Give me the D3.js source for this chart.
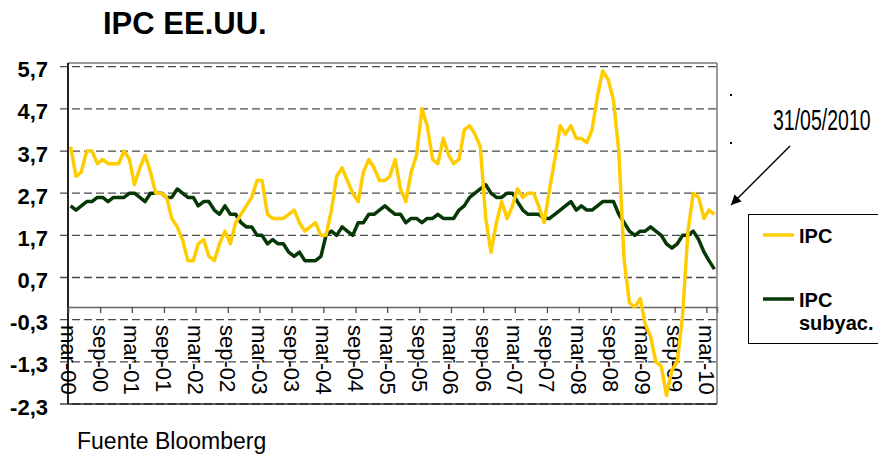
<!DOCTYPE html>
<html>
<head>
<meta charset="utf-8">
<script src="https://cdnjs.cloudflare.com/ajax/libs/d3/7.8.5/d3.min.js"></script>
<style>
  html, body { margin: 0; padding: 0; background: #fff; }
  svg { display: block; font-family: "Liberation Sans", Arial, sans-serif; }
</style>
</head>
<body>
<div id="chart"></div>
<script>
// IPC EE.UU., variacion interanual (%), mar-00 .. abr-10 (datos a 31/05/2010)
const ipc = [
  3.8, 3.1, 3.2, 3.7, 3.7, 3.4, 3.5, 3.4, 3.4, 3.4,                // 2000 (mar-dic)
  3.7, 3.5, 2.9, 3.3, 3.6, 3.2, 2.7, 2.7, 2.6, 2.1, 1.9, 1.6,      // 2001
  1.1, 1.1, 1.5, 1.6, 1.2, 1.1, 1.5, 1.8, 1.5, 2.0, 2.2, 2.4,      // 2002
  2.6, 3.0, 3.0, 2.2, 2.1, 2.1, 2.1, 2.2, 2.3, 2.0, 1.8, 1.9,      // 2003
  2.0, 1.7, 1.7, 2.3, 3.1, 3.3, 3.0, 2.7, 2.5, 3.2, 3.5, 3.3,      // 2004
  3.0, 3.0, 3.1, 3.5, 2.8, 2.5, 3.2, 3.6, 4.7, 4.3, 3.5, 3.4,      // 2005
  4.0, 3.6, 3.4, 3.5, 4.2, 4.3, 4.1, 3.8, 2.1, 1.3, 2.0, 2.5,      // 2006
  2.1, 2.4, 2.8, 2.6, 2.7, 2.7, 2.4, 2.0, 2.8, 3.5, 4.3, 4.1,      // 2007
  4.3, 4.0, 4.0, 3.9, 4.2, 5.0, 5.6, 5.4, 4.9, 3.7, 1.1, 0.1,      // 2008
  0.0, 0.2, -0.4, -0.7, -1.3, -1.4, -2.1, -1.5, -1.3, -0.2, 1.8, 2.7, // 2009
  2.6, 2.1, 2.3, 2.2                                               // 2010 (ene-abr)
];
const ipcSubyac = [
  2.4, 2.3, 2.4, 2.5, 2.5, 2.6, 2.6, 2.5, 2.6, 2.6,
  2.6, 2.7, 2.7, 2.6, 2.5, 2.7, 2.7, 2.7, 2.6, 2.6, 2.8, 2.7,
  2.6, 2.6, 2.4, 2.5, 2.5, 2.3, 2.2, 2.4, 2.2, 2.2, 2.0, 1.9,
  1.9, 1.7, 1.7, 1.5, 1.6, 1.5, 1.5, 1.3, 1.2, 1.3, 1.1, 1.1,
  1.1, 1.2, 1.7, 1.8, 1.7, 1.9, 1.8, 1.7, 2.0, 2.0, 2.2, 2.2,
  2.3, 2.4, 2.3, 2.2, 2.2, 2.0, 2.1, 2.1, 2.0, 2.1, 2.1, 2.2,
  2.1, 2.1, 2.1, 2.3, 2.4, 2.6, 2.7, 2.8, 2.9, 2.7, 2.6, 2.6,
  2.7, 2.7, 2.5, 2.3, 2.2, 2.2, 2.2, 2.1, 2.1, 2.2, 2.3, 2.4,
  2.5, 2.3, 2.4, 2.3, 2.3, 2.4, 2.5, 2.5, 2.5, 2.2, 2.0, 1.8,
  1.7, 1.8, 1.8, 1.9, 1.8, 1.7, 1.5, 1.4, 1.5, 1.7, 1.7, 1.8,
  1.6, 1.3, 1.1, 0.9
];
const xTickLabels = ["mar-00","sep-00","mar-01","sep-01","mar-02","sep-02","mar-03","sep-03",
  "mar-04","sep-04","mar-05","sep-05","mar-06","sep-06","mar-07","sep-07",
  "mar-08","sep-08","mar-09","sep-09","mar-10"];
const yTicks = [5.7, 4.7, 3.7, 2.7, 1.7, 0.7, -0.3, -1.3, -2.3];
const seriesNames = ["IPC", "IPC subyac."];
const seriesColors = ["#ffcc00", "#063806"];

const W = 878, H = 454;
const plotL = 68, plotR = 717, plotT = 63, plotB = 404;

const svg = d3.select("#chart").append("svg")
  .attr("width", W).attr("height", H);

// title
svg.append("text")
  .attr("x", 103).attr("y", 34)
  .style("font-size", "31px").style("font-weight", "bold")
  .text("IPC EE.UU.");

const firstMonth = new Date(2000, 2, 1);
const months = d3.timeMonth.range(firstMonth, d3.timeMonth.offset(firstMonth, ipc.length));

var x = d3.scaleTime()
  .domain([firstMonth, new Date(2010, 4, 1)])
  .range([plotL, plotR]);

var y = d3.scaleLinear()
  .domain([-2.3, 5.7])
  .range([plotB, 66.7]);

const fmt = d3.formatLocale({decimal: ",", thousands: ".", grouping: [3], currency: ["", ""], minus: "-"}).format(".1f");
const parseTick = d3.timeParse("%b-%y");

// gridlines (dashed) with the small outside tick
svg.append("g")
  .selectAll("line")
  .data(yTicks)
  .enter()
  .append("line")
  .attr("x1", 60).attr("x2", plotR)
  .attr("y1", d => y(d)).attr("y2", d => y(d))
  .attr("stroke", "#4a4a4a")
  .attr("stroke-width", 1.3)
  .attr("stroke-dasharray", "8,4");

// y labels
svg.append("g")
  .selectAll("text")
  .data(yTicks)
  .enter()
  .append("text")
  .attr("x", 48)
  .attr("y", d => y(d) + 10.5)
  .attr("text-anchor", "end")
  .style("font-size", "22px").style("font-weight", "bold")
  .text(d => fmt(d));

// frame
svg.append("line").attr("x1", plotL).attr("x2", plotR).attr("y1", plotT).attr("y2", plotT)
  .attr("stroke", "#777").attr("stroke-width", 1.5);
svg.append("line").attr("x1", plotR).attr("x2", plotR).attr("y1", plotT).attr("y2", plotB)
  .attr("stroke", "#777").attr("stroke-width", 1.5);
svg.append("line").attr("x1", plotL).attr("x2", plotR).attr("y1", plotB).attr("y2", plotB)
  .attr("stroke", "#222").attr("stroke-width", 1.5);
svg.append("line").attr("x1", plotL).attr("x2", plotL).attr("y1", plotT).attr("y2", plotB)
  .attr("stroke", "#222").attr("stroke-width", 2);

// category axis crossing at 0
var xAxis = d3.axisBottom(x)
  .tickValues(xTickLabels.map(parseTick))
  .tickSize(6)
  .tickFormat("");
var gx = svg.append("g")
  .attr("transform", "translate(0," + y(0) + ")")
  .call(xAxis);
gx.select(".domain").attr("stroke", "#666").attr("stroke-width", 1.5);
gx.selectAll(".tick line").attr("stroke", "#444").attr("stroke-width", 1.2);

svg.append("g")
  .selectAll("text")
  .data(xTickLabels)
  .enter()
  .append("text")
  .attr("transform", d => "translate(" + x(parseTick(d)) + ",325) rotate(90)")
  .attr("dominant-baseline", "central")
  .style("font-size", "22px")
  .text(d => d);

// lines
var line = d3.line()
  .x((d, i) => x(d3.timeDay.offset(months[i], 15)))
  .y(d => y(d));

[ipcSubyac, ipc].forEach((s, k) => {
  svg.append("path")
    .datum(s)
    .attr("d", line)
    .attr("fill", "none")
    .attr("stroke", k === 0 ? seriesColors[1] : seriesColors[0])
    .attr("stroke-width", 3.5)
    .attr("stroke-linejoin", "round");
});

// legend
svg.append("rect")
  .attr("x", 748.5).attr("y", 214.5)
  .attr("width", 140).attr("height", 129)
  .attr("fill", "#fff").attr("stroke", "#000").attr("stroke-width", 1);

const legendY = [235, 299];
seriesNames.forEach((name, i) => {
  svg.append("line")
    .attr("x1", 763).attr("x2", 794)
    .attr("y1", legendY[i]).attr("y2", legendY[i])
    .attr("stroke", seriesColors[i]).attr("stroke-width", 3.5);
  var t = svg.append("text")
    .attr("x", 799).attr("y", legendY[i] + 8.3)
    .style("font-size", "20px").style("font-weight", "bold");
  name.split(" ").forEach((w, j) => {
    t.append("tspan").attr("x", 799).attr("dy", j === 0 ? 0 : 23).text(w);
  });
});

// date annotation with arrow
svg.append("defs").append("marker")
  .attr("id", "head")
  .attr("viewBox", "0 0 10 10")
  .attr("refX", 10).attr("refY", 5)
  .attr("markerWidth", 11).attr("markerHeight", 10)
  .attr("markerUnits", "userSpaceOnUse")
  .attr("orient", "auto")
  .append("path")
  .attr("d", "M0,0 L10,5 L0,10 Z")
  .attr("fill", "#000");

svg.append("line")
  .attr("x1", 790).attr("y1", 146)
  .attr("x2", 731).attr("y2", 205)
  .attr("stroke", "#000").attr("stroke-width", 1.5)
  .attr("marker-end", "url(#head)");

// condensed date label
svg.append("text")
  .attr("transform", "translate(773,130) scale(0.65,1)")
  .style("font-size", "30px")
  .text("31/05/2010");

// leftover dots of the original text box
svg.selectAll(".dot")
  .data([[730, 94], [730, 142]])
  .enter()
  .append("rect")
  .attr("x", d => d[0]).attr("y", d => d[1])
  .attr("width", 2).attr("height", 2)
  .attr("fill", "#000");

svg.append("text")
  .attr("x", 77).attr("y", 449)
  .style("font-size", "23px")
  .text("Fuente Bloomberg");
</script>
</body>
</html>
